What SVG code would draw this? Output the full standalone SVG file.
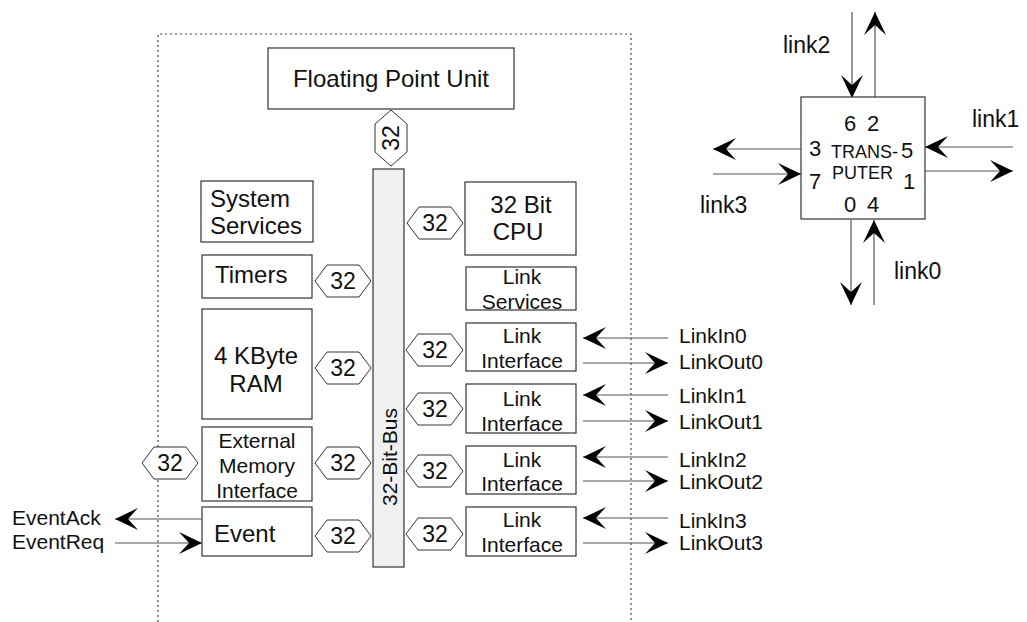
<svg xmlns="http://www.w3.org/2000/svg" width="1027" height="622" viewBox="0 0 1027 622">
<defs>
<style>
text{font-family:"Liberation Sans",Arial,sans-serif;fill:#111}
.box{fill:#fff;stroke:#333;stroke-width:1.2}
.bus{fill:#f0f0f0;stroke:#333;stroke-width:1.2}
.hex{fill:#fff;stroke:#333;stroke-width:1}
.ln{stroke:#555;stroke-width:1.2;fill:none;marker-end:url(#ah)}
.t24{font-size:24px}
.t21{font-size:21px}
.t22{font-size:22px}
.t23{font-size:23px}
.c{text-anchor:middle}
.frame{fill:none;stroke:#444;stroke-width:1.2;stroke-dasharray:2 3}
</style>
<marker id="ah" viewBox="0 0 23 22" refX="23" refY="11" markerWidth="23" markerHeight="22" markerUnits="userSpaceOnUse" orient="auto">
<path d="M0,0 L23,11 L0,22 L10,11 Z" fill="#000"/>
</marker>
</defs>
<polyline class="frame" points="158,622 158,34 631,34 631,622"/>
<g id="fpu"><rect class="box" x="268" y="48" width="246" height="61"/><text class="t24 c" x="391" y="87">Floating Point Unit</text></g>
<g id="bus"><rect class="bus" x="373" y="169" width="31" height="398"/><text class="t21 c" transform="translate(397,457) rotate(-90)">32-Bit-Bus</text></g>
<g id="hex-fpu"><polygon class="hex" points="391,110 407,124 407,152 391,166 375,152 375,124"/><text class="t23 c" transform="translate(399,138) rotate(-90)">32</text></g>
<g id="sysserv"><rect class="box" x="201" y="181" width="112" height="61"/><text class="t24" x="210" y="207">System</text><text class="t24" x="210" y="234">Services</text></g>
<g id="timers"><rect class="box" x="202" y="255" width="110" height="43"/><text class="t24" x="215" y="283">Timers</text></g>
<g id="ram"><rect class="box" x="202" y="309" width="110" height="110"/><text class="t24 c" x="256" y="364">4 KByte</text><text class="t24 c" x="256" y="392">RAM</text></g>
<g id="extmem"><rect class="box" x="202" y="427" width="110" height="74"/><text class="t21 c" x="257" y="448">External</text><text class="t21 c" x="257" y="473">Memory</text><text class="t21 c" x="257" y="498">Interface</text></g>
<g id="event"><rect class="box" x="202" y="507" width="110" height="49"/><text class="t24" x="214" y="542">Event</text></g>
<g id="cpu"><rect class="box" x="465" y="182" width="111" height="73"/><text class="t24 c" x="521" y="213">32 Bit</text><text class="t24 c" x="518" y="240">CPU</text></g>
<g id="linkserv"><rect class="box" x="466" y="267" width="110" height="43"/><text class="t21 c" x="522" y="284">Link</text><text class="t21 c" x="522" y="309">Services</text></g>
<g id="li0"><rect class="box" x="466" y="323" width="110" height="48"/><text class="t21 c" x="522" y="343">Link</text><text class="t21 c" x="522" y="368">Interface</text></g>
<g id="li1"><rect class="box" x="466" y="384" width="110" height="49"/><text class="t21 c" x="522" y="406">Link</text><text class="t21 c" x="522" y="431">Interface</text></g>
<g id="li2"><rect class="box" x="466" y="446" width="110" height="48"/><text class="t21 c" x="522" y="467">Link</text><text class="t21 c" x="522" y="491">Interface</text></g>
<g id="li3"><rect class="box" x="466" y="507" width="110" height="49"/><text class="t21 c" x="522" y="527">Link</text><text class="t21 c" x="522" y="552">Interface</text></g>
<g id="hexes">
<g id="hex-cpu"><polygon class="hex" points="407,223 419,207 451,207 463,223 451,239 419,239"/><text class="t23 c" x="435" y="231">32</text></g>
<g id="hex-timers"><polygon class="hex" points="315,281 327,265 359,265 371,281 359,297 327,297"/><text class="t23 c" x="343" y="289">32</text></g>
<g id="hex-ram"><polygon class="hex" points="315,368 327,352 359,352 371,368 359,384 327,384"/><text class="t23 c" x="343" y="376">32</text></g>
<g id="hex-ext"><polygon class="hex" points="315,463 327,447 359,447 371,463 359,479 327,479"/><text class="t23 c" x="343" y="471">32</text></g>
<g id="hex-extout"><polygon class="hex" points="142,463 154,447 186,447 198,463 186,479 154,479"/><text class="t23 c" x="170" y="471">32</text></g>
<g id="hex-event"><polygon class="hex" points="315,536 327,520 359,520 371,536 359,552 327,552"/><text class="t23 c" x="343" y="544">32</text></g>
<g id="hex-li0"><polygon class="hex" points="406,350 418,334 451,334 463,350 451,366 418,366"/><text class="t23 c" x="435" y="358">32</text></g>
<g id="hex-li1"><polygon class="hex" points="406,409 418,393 451,393 463,409 451,425 418,425"/><text class="t23 c" x="435" y="417">32</text></g>
<g id="hex-li2"><polygon class="hex" points="406,471 418,455 451,455 463,471 451,487 418,487"/><text class="t23 c" x="435" y="479">32</text></g>
<g id="hex-li3"><polygon class="hex" points="406,534 418,518 451,518 463,534 451,550 418,550"/><text class="t23 c" x="435" y="542">32</text></g>
</g>
<g id="connectors">
<line class="ln" x1="202" y1="519" x2="115" y2="519"/>
<line class="ln" x1="115" y1="543" x2="202" y2="543"/>
<line class="ln" x1="668" y1="338" x2="583" y2="338"/>
<line class="ln" x1="583" y1="363" x2="668" y2="363"/>
<line class="ln" x1="668" y1="395" x2="583" y2="395"/>
<line class="ln" x1="583" y1="421" x2="668" y2="421"/>
<line class="ln" x1="668" y1="457" x2="583" y2="457"/>
<line class="ln" x1="583" y1="481" x2="668" y2="481"/>
<line class="ln" x1="668" y1="518" x2="583" y2="518"/>
<line class="ln" x1="583" y1="543" x2="668" y2="543"/>
<line class="ln" x1="852" y1="12" x2="852" y2="98"/>
<line class="ln" x1="875" y1="98" x2="875" y2="12"/>
<line class="ln" x1="1013" y1="147" x2="925" y2="147"/>
<line class="ln" x1="925" y1="171" x2="1013" y2="171"/>
<line class="ln" x1="801" y1="149" x2="713" y2="149"/>
<line class="ln" x1="713" y1="174" x2="801" y2="174"/>
<line class="ln" x1="851" y1="220" x2="851" y2="305"/>
<line class="ln" x1="874" y1="305" x2="874" y2="220"/>
</g>
<g id="labels">
<text class="t21" x="12" y="525">EventAck</text>
<text class="t21" x="12" y="549">EventReq</text>
<text class="t21" x="679" y="343">LinkIn0</text>
<text class="t21" x="679" y="369">LinkOut0</text>
<text class="t21" x="679" y="403">LinkIn1</text>
<text class="t21" x="679" y="429">LinkOut1</text>
<text class="t21" x="679" y="467">LinkIn2</text>
<text class="t21" x="679" y="489">LinkOut2</text>
<text class="t21" x="679" y="528">LinkIn3</text>
<text class="t21" x="679" y="550">LinkOut3</text>
</g>
<g id="transputer">
<rect class="box" x="801" y="97" width="124" height="122"/>
<text class="t22" x="844" y="131">6</text>
<text class="t22" x="867" y="131">2</text>
<text class="t22" x="809" y="156">3</text>
<text style="font-size:18px" x="831" y="158">TRANS-</text>
<text class="t22" x="901" y="158">5</text>
<text class="t22" x="809" y="189">7</text>
<text style="font-size:18px" x="832" y="179">PUTER</text>
<text class="t22" x="903" y="189">1</text>
<text class="t22" x="844" y="212">0</text>
<text class="t22" x="867" y="212">4</text>
<text class="t23" x="783" y="53">link2</text>
<text class="t23" x="972" y="127">link1</text>
<text class="t23" x="700" y="213">link3</text>
<text class="t23" x="894" y="279">link0</text>
</g>
</svg>
